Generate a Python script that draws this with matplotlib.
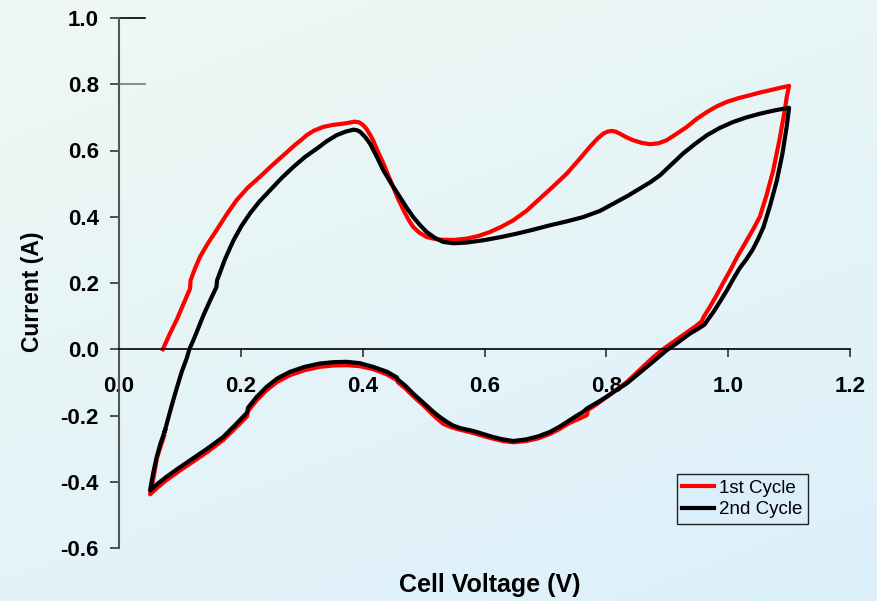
import numpy as np
import matplotlib
matplotlib.use("Agg")
import matplotlib.pyplot as plt

plt.rcParams["font.family"] = ["Liberation Sans", "DejaVu Sans"]

# cyclic voltammogram, cell voltage (V) vs current (A)
v1 = [0.072, 0.083, 0.095, 0.106, 0.1166, 0.1175, 0.125, 0.133, 0.146, 0.160,
      0.176, 0.193, 0.211, 0.231, 0.250, 0.270, 0.289, 0.300, 0.308, 0.320,
      0.335, 0.350, 0.368, 0.380, 0.387, 0.394, 0.400, 0.406, 0.412, 0.417,
      0.425, 0.434, 0.442, 0.450, 0.458, 0.467, 0.475, 0.483, 0.493, 0.505,
      0.516, 0.527, 0.540, 0.550, 0.571, 0.590, 0.609, 0.628, 0.647, 0.669,
      0.691, 0.713, 0.735, 0.755, 0.773, 0.785, 0.795, 0.802, 0.809, 0.815,
      0.822, 0.833, 0.844, 0.858, 0.872, 0.886, 0.899, 0.915, 0.932, 0.948,
      0.965, 0.981, 0.998, 1.017, 1.036, 1.052, 1.069, 1.085, 1.100,
      1.096, 1.093, 1.084, 1.074, 1.063, 1.052, 1.041, 1.030, 1.014, 1.003,
      0.992, 0.981, 0.970, 0.959, 0.957, 0.947, 0.937, 0.924, 0.910, 0.893,
      0.877, 0.855, 0.833, 0.816, 0.800, 0.785, 0.770, 0.768, 0.755, 0.740,
      0.724, 0.707, 0.688, 0.669, 0.647, 0.630, 0.614, 0.598, 0.582, 0.560,
      0.545, 0.532, 0.516, 0.500, 0.483, 0.470, 0.458, 0.456, 0.440, 0.417,
      0.395, 0.374, 0.352, 0.330, 0.305, 0.281, 0.260, 0.242, 0.226, 0.212,
      0.210, 0.190, 0.171, 0.145, 0.117, 0.097, 0.078, 0.064, 0.051, 0.057,
      0.062, 0.068, 0.074]
i1 = [0.000, 0.045, 0.090, 0.137, 0.183, 0.208, 0.245, 0.279, 0.320, 0.359,
      0.405, 0.450, 0.487, 0.520, 0.553, 0.586, 0.617, 0.633, 0.646, 0.660,
      0.671, 0.677, 0.681, 0.685, 0.687, 0.685, 0.678, 0.666, 0.648, 0.631,
      0.597, 0.561, 0.525, 0.490, 0.455, 0.420, 0.392, 0.369, 0.352, 0.339,
      0.334, 0.331, 0.330, 0.330, 0.334, 0.342, 0.354, 0.370, 0.389, 0.418,
      0.455, 0.492, 0.530, 0.572, 0.611, 0.635, 0.651, 0.657, 0.659, 0.657,
      0.651, 0.640, 0.631, 0.623, 0.619, 0.622, 0.631, 0.650, 0.671, 0.695,
      0.716, 0.733, 0.747, 0.758, 0.767, 0.775, 0.782, 0.789, 0.795,
      0.760, 0.722, 0.630, 0.540, 0.465, 0.400, 0.362, 0.327, 0.276, 0.237,
      0.201, 0.163, 0.128, 0.095, 0.085, 0.070, 0.057, 0.040, 0.022, 0.000,
      -0.024, -0.062, -0.100, -0.123, -0.145, -0.165, -0.183, -0.199, -0.210, -0.222,
      -0.240, -0.256, -0.269, -0.277, -0.281, -0.277, -0.270, -0.262, -0.253, -0.243,
      -0.235, -0.225, -0.199, -0.170, -0.142, -0.118, -0.100, -0.093, -0.076, -0.060,
      -0.051, -0.048, -0.049, -0.053, -0.063, -0.078, -0.098, -0.124, -0.154, -0.186,
      -0.203, -0.240, -0.274, -0.310, -0.345, -0.370, -0.395, -0.416, -0.438, -0.385,
      -0.330, -0.295, -0.262]

v2 = [0.0755, 0.082, 0.089, 0.096, 0.103, 0.111, 0.1155, 0.122, 0.130, 0.138,
      0.149, 0.160, 0.161, 0.174, 0.188, 0.201, 0.215, 0.231, 0.248, 0.267,
      0.286, 0.305, 0.325, 0.341, 0.357, 0.372, 0.385, 0.391, 0.396, 0.404,
      0.412, 0.423, 0.434, 0.447, 0.461, 0.472, 0.483, 0.494, 0.505, 0.518,
      0.532, 0.549, 0.570, 0.598, 0.625, 0.653, 0.680, 0.707, 0.735, 0.762,
      0.790, 0.817, 0.836, 0.855, 0.872, 0.888, 0.907, 0.926, 0.945, 0.965,
      0.986, 1.008, 1.030, 1.052, 1.076, 1.100,
      1.098, 1.096, 1.089, 1.080, 1.069, 1.058, 1.049, 1.040, 1.030, 1.019,
      1.008, 0.998, 0.987, 0.976, 0.967, 0.961, 0.949, 0.937, 0.926, 0.915,
      0.899, 0.883, 0.858, 0.833, 0.816, 0.800, 0.784, 0.768, 0.762, 0.751,
      0.740, 0.724, 0.707, 0.688, 0.669, 0.647, 0.630, 0.614, 0.598, 0.582,
      0.560, 0.548, 0.538, 0.527, 0.516, 0.500, 0.483, 0.470, 0.458, 0.456,
      0.440, 0.417, 0.395, 0.374, 0.352, 0.330, 0.305, 0.281, 0.260, 0.242,
      0.226, 0.212, 0.210, 0.190, 0.171, 0.145, 0.117, 0.097, 0.078, 0.064,
      0.051, 0.056, 0.062, 0.068, 0.0755]
i2 = [-0.245, -0.200, -0.154, -0.110, -0.068, -0.028, 0.000, 0.027, 0.063, 0.100,
      0.145, 0.188, 0.208, 0.272, 0.329, 0.372, 0.410, 0.447, 0.480, 0.517,
      0.550, 0.580, 0.606, 0.628, 0.646, 0.657, 0.663, 0.661, 0.656, 0.641,
      0.621, 0.582, 0.540, 0.500, 0.460, 0.428, 0.399, 0.375, 0.354, 0.337,
      0.324, 0.320, 0.322, 0.329, 0.338, 0.349, 0.361, 0.374, 0.386, 0.399,
      0.418, 0.445, 0.464, 0.485, 0.504, 0.525, 0.558, 0.591, 0.619, 0.646,
      0.668, 0.686, 0.700, 0.711, 0.721, 0.729,
      0.700, 0.671, 0.590, 0.510, 0.435, 0.369, 0.332, 0.300, 0.272, 0.245,
      0.211, 0.178, 0.145, 0.113, 0.090, 0.074, 0.060, 0.047, 0.032, 0.017,
      -0.003, -0.028, -0.066, -0.104, -0.124, -0.144, -0.162, -0.179, -0.189, -0.201,
      -0.214, -0.233, -0.250, -0.263, -0.272, -0.277, -0.272, -0.265, -0.256, -0.247,
      -0.238, -0.230, -0.219, -0.205, -0.189, -0.162, -0.134, -0.110, -0.092, -0.085,
      -0.068, -0.053, -0.042, -0.038, -0.039, -0.043, -0.053, -0.068, -0.088, -0.114,
      -0.144, -0.176, -0.192, -0.230, -0.265, -0.300, -0.335, -0.360, -0.385, -0.405,
      -0.426, -0.375, -0.325, -0.285, -0.245]

labels = ["1st Cycle", "2nd Cycle"]
xticks = [0.0, 0.2, 0.4, 0.6, 0.8, 1.0, 1.2]
yticks = [-0.6, -0.4, -0.2, 0.0, 0.2, 0.4, 0.6, 0.8, 1.0]

fig = plt.figure(figsize=(8.77, 6.01), dpi=100)

# soft green-to-blue backdrop
bg = fig.add_axes([0, 0, 1, 1], zorder=-10)
gx, gy = np.meshgrid(np.linspace(0, 1, 200), np.linspace(0, 1, 200))
t = (0.35 * gx + 0.65 * gy)[..., None]
c0 = np.array([0.937, 0.973, 0.953])
c1 = np.array([0.863, 0.941, 0.984])
bg.imshow(c0 * (1 - t) + c1 * t, aspect="auto", extent=[0, 1, 0, 1], origin="upper")
bg.axis("off")

ax = fig.add_axes([119 / 877, 53 / 601, 731 / 877, 530 / 601])
ax.patch.set_alpha(0)

ax.plot(v1, i1, color="#ff0000", lw=3, label=labels[0], solid_joinstyle="round")
ax.plot(v2, i2, color="black", lw=3, label=labels[1], solid_joinstyle="round")

for s in ["top", "right"]:
    ax.spines[s].set_visible(False)
ax.spines["bottom"].set_position(("data", 0))
ax.spines["bottom"].set_color("black")
ax.spines["bottom"].set_linewidth(1.2)
ax.spines["left"].set_color("#555555")
ax.spines["left"].set_linewidth(1.5)

ax.set_xlim(0, 1.2)
ax.set_ylim(-0.6, 1.0)
ax.set_xticks(xticks)
ax.set_yticks(yticks)
ax.set_xticklabels([f"{x:.1f}" for x in xticks], fontsize=16, fontweight="bold")
ax.set_yticklabels([f"{y:.1f}" for y in yticks], fontsize=16, fontweight="bold")
ax.tick_params(axis="x", direction="out", length=6, width=1.2, color="#333333", pad=13)
ax.tick_params(axis="y", direction="out", length=6.5, width=1.2, color="#333333", pad=8)

# short crossing marks at the top of the current axis
for yv, col in [(1.0, "black"), (0.8, "#777777")]:
    ax.plot([0, 0.043], [yv, yv], color=col, lw=1.2, clip_on=False)

fig.text(490 / 877, 1 - 585 / 601, "Cell Voltage (V)", fontsize=18, fontweight="bold",
         ha="center", va="center")
fig.text(32 / 877, 1 - 292 / 601, "Current (A)", fontsize=16.5, fontweight="bold",
         ha="center", va="center", rotation=90)

leg = ax.legend(loc="upper left", bbox_to_anchor=(0.763, 0.140), borderaxespad=0,
                fontsize=13.5, fancybox=False, framealpha=1, handlelength=1.7,
                handletextpad=0.25, labelspacing=0.25, borderpad=0.3)
leg.get_frame().set_edgecolor("#222222")
leg.get_frame().set_linewidth(1.0)
leg.get_frame().set_facecolor("#dbeffb")

fig.savefig("out.png", dpi=100)
